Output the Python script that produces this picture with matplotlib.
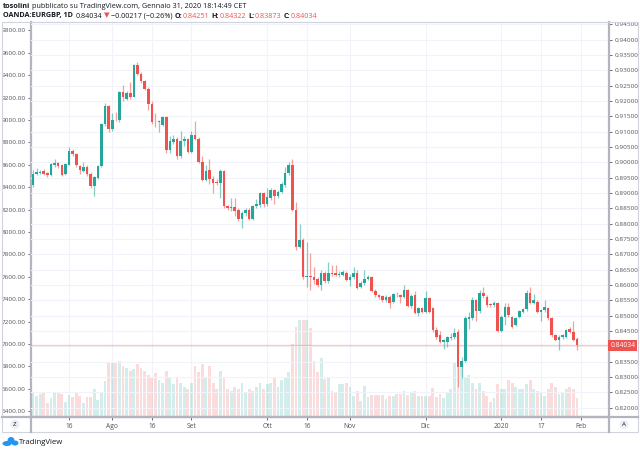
import datetime
import matplotlib
matplotlib.use("Agg")
import matplotlib.pyplot as plt
from matplotlib.patches import Rectangle, Ellipse
from matplotlib.lines import Line2D
from matplotlib.transforms import blended_transform_factory

# EURGBP daily candles, 2 Jul 2019 -> 31 Jan 2020
opens = [
    0.8926, 0.8962, 0.8967, 0.8972, 0.8964, 0.8958, 0.8993, 0.8998, 0.8990, 0.8962,
    0.8993, 0.9037, 0.9028, 0.8988, 0.8973, 0.8984, 0.8962, 0.8923, 0.8950, 0.8988,
    0.9125, 0.9184, 0.9109, 0.9140, 0.9138, 0.9230, 0.9207, 0.9227, 0.9214, 0.9317,
    0.9290, 0.9266, 0.9241, 0.9192, 0.9133, 0.9131, 0.9121, 0.9149, 0.9040, 0.9066,
    0.9077, 0.9020, 0.9070, 0.9075, 0.9035, 0.9088, 0.9078, 0.9002, 0.8943, 0.8975,
    0.8947, 0.8935, 0.8932, 0.8973, 0.8858, 0.8850, 0.8855, 0.8845, 0.8814, 0.8834,
    0.8845, 0.8817, 0.8858, 0.8861, 0.8899, 0.8864, 0.8883, 0.8910, 0.8890, 0.8904,
    0.8925, 0.8966, 0.8990, 0.8845, 0.8725, 0.8747, 0.8627, 0.8630, 0.8627, 0.8619,
    0.8600, 0.8640, 0.8613, 0.8640, 0.8638, 0.8633, 0.8633, 0.8640, 0.8616, 0.8627,
    0.8638, 0.8594, 0.8606, 0.8621, 0.8625, 0.8581, 0.8567, 0.8563, 0.8551, 0.8562,
    0.8544, 0.8568, 0.8566, 0.8562, 0.8584, 0.8532, 0.8567, 0.8510, 0.8524, 0.8513,
    0.8557, 0.8524, 0.8453, 0.8437, 0.8415, 0.8415, 0.8426, 0.8429, 0.8448, 0.8334,
    0.8353, 0.8488, 0.8491, 0.8551, 0.8516, 0.8573, 0.8562, 0.8538, 0.8535, 0.8542,
    0.8451, 0.8497, 0.8527, 0.8497, 0.8470, 0.8497, 0.8513, 0.8521, 0.8573, 0.8542,
    0.8546, 0.8513, 0.8518, 0.8524, 0.8491, 0.8437, 0.8421, 0.8429, 0.8431, 0.8457,
    0.8448, 0.84251]
highs = [
    0.8975, 0.8982, 0.8976, 0.8978, 0.8968, 0.8999, 0.9010, 0.9003, 0.8995, 0.8999,
    0.9050, 0.9045, 0.9032, 0.8993, 0.9000, 0.8992, 0.8968, 0.8955, 0.8992, 0.9130,
    0.9195, 0.9186, 0.9160, 0.9166, 0.9234, 0.9253, 0.9232, 0.9263, 0.9322, 0.9328,
    0.9295, 0.9270, 0.9245, 0.9200, 0.9160, 0.9140, 0.9150, 0.9152, 0.9085, 0.9090,
    0.9082, 0.9102, 0.9085, 0.9080, 0.9102, 0.9136, 0.9082, 0.9020, 0.8990, 0.9010,
    0.8955, 0.8945, 0.8978, 0.8976, 0.8862, 0.8883, 0.8885, 0.8850, 0.8840, 0.8850,
    0.8850, 0.8862, 0.8880, 0.8905, 0.8902, 0.8915, 0.8915, 0.8912, 0.8910, 0.8935,
    0.8985, 0.9000, 0.9010, 0.8870, 0.8800, 0.8752, 0.8740, 0.8705, 0.8660, 0.8625,
    0.8648, 0.8645, 0.8676, 0.8665, 0.8665, 0.8645, 0.8648, 0.8645, 0.8635, 0.8660,
    0.8650, 0.8612, 0.8650, 0.8632, 0.8630, 0.8586, 0.8572, 0.8568, 0.8567, 0.8567,
    0.8575, 0.8577, 0.8570, 0.8600, 0.8588, 0.8572, 0.8582, 0.8530, 0.8528, 0.8580,
    0.8562, 0.8530, 0.8462, 0.8450, 0.8425, 0.8435, 0.8445, 0.8459, 0.8456, 0.8365,
    0.8500, 0.8513, 0.8560, 0.8556, 0.8584, 0.8594, 0.8566, 0.8542, 0.8548, 0.8546,
    0.8502, 0.8540, 0.8540, 0.8500, 0.8496, 0.8520, 0.8526, 0.8584, 0.8594, 0.8570,
    0.8551, 0.8523, 0.8551, 0.8530, 0.8496, 0.8442, 0.8436, 0.8442, 0.8458, 0.8462,
    0.8484, 0.84322]
lows = [
    0.8921, 0.8958, 0.8963, 0.8958, 0.8954, 0.8955, 0.8985, 0.8982, 0.8955, 0.8958,
    0.8990, 0.9022, 0.8985, 0.8962, 0.8968, 0.8955, 0.8915, 0.8891, 0.8945, 0.8985,
    0.9118, 0.9098, 0.9102, 0.9135, 0.9132, 0.9200, 0.9202, 0.9208, 0.9212, 0.9285,
    0.9260, 0.9236, 0.9170, 0.9125, 0.9115, 0.9100, 0.9118, 0.9030, 0.9032, 0.9060,
    0.9012, 0.9015, 0.9055, 0.9030, 0.9030, 0.9072, 0.8998, 0.8938, 0.8940, 0.8930,
    0.8900, 0.8925, 0.8883, 0.8852, 0.8846, 0.8840, 0.8825, 0.8808, 0.8785, 0.8825,
    0.8812, 0.8812, 0.8850, 0.8855, 0.8855, 0.8858, 0.8878, 0.8865, 0.8885, 0.8900,
    0.8920, 0.8960, 0.8840, 0.8715, 0.8720, 0.8620, 0.8594, 0.8585, 0.8602, 0.8595,
    0.8584, 0.8608, 0.8608, 0.8630, 0.8628, 0.8625, 0.8628, 0.8612, 0.8598, 0.8620,
    0.8586, 0.8589, 0.8600, 0.8615, 0.8576, 0.8562, 0.8555, 0.8546, 0.8546, 0.8525,
    0.8540, 0.8560, 0.8540, 0.8558, 0.8528, 0.8525, 0.8505, 0.8500, 0.8508, 0.8509,
    0.8508, 0.8448, 0.8425, 0.8410, 0.8390, 0.8398, 0.8420, 0.8425, 0.8268, 0.8296,
    0.8348, 0.8458, 0.8485, 0.8484, 0.8510, 0.8558, 0.8530, 0.8530, 0.8530, 0.8446,
    0.8446, 0.8470, 0.8497, 0.8459, 0.8465, 0.8492, 0.8508, 0.8516, 0.8538, 0.8537,
    0.8508, 0.8484, 0.8513, 0.8486, 0.8432, 0.8416, 0.8388, 0.8424, 0.8426, 0.8443,
    0.8416, 0.83873]
closes = [
    0.8962, 0.8969, 0.8970, 0.8962, 0.8958, 0.8995, 0.8998, 0.8988, 0.8960, 0.8995,
    0.9037, 0.9028, 0.8991, 0.8975, 0.8986, 0.8962, 0.8923, 0.8951, 0.8988, 0.9125,
    0.9184, 0.9108, 0.9140, 0.9138, 0.9230, 0.9214, 0.9227, 0.9214, 0.9317, 0.9290,
    0.9266, 0.9241, 0.9192, 0.9132, 0.9131, 0.9134, 0.9147, 0.9040, 0.9070, 0.9078,
    0.9020, 0.9069, 0.9075, 0.9035, 0.9088, 0.9078, 0.9002, 0.8943, 0.8973, 0.8947,
    0.8933, 0.8932, 0.8973, 0.8858, 0.8852, 0.8855, 0.8842, 0.8814, 0.8834, 0.8845,
    0.8817, 0.8858, 0.8864, 0.8899, 0.8864, 0.8886, 0.8910, 0.8890, 0.8904, 0.8929,
    0.8966, 0.8990, 0.8845, 0.8725, 0.8747, 0.8627, 0.8630, 0.8627, 0.8616, 0.8600,
    0.8640, 0.8614, 0.8638, 0.8637, 0.8633, 0.8636, 0.8643, 0.8616, 0.8627, 0.8640,
    0.8591, 0.8606, 0.8619, 0.8625, 0.8581, 0.8567, 0.8560, 0.8551, 0.8562, 0.8542,
    0.8570, 0.8566, 0.8562, 0.8584, 0.8532, 0.8565, 0.8510, 0.8524, 0.8513, 0.8557,
    0.8513, 0.8453, 0.8431, 0.8415, 0.8421, 0.8429, 0.8431, 0.8445, 0.8334, 0.8353,
    0.8491, 0.8497, 0.8551, 0.8516, 0.8573, 0.8564, 0.8535, 0.8535, 0.8542, 0.8451,
    0.8497, 0.8527, 0.8502, 0.8464, 0.8491, 0.8516, 0.8521, 0.8573, 0.8542, 0.8551,
    0.8513, 0.8518, 0.8527, 0.8491, 0.8437, 0.8421, 0.8431, 0.8437, 0.8453, 0.8448,
    0.8421, 0.84034]
# volume bars, read in units of the left scale
volumes = [
    6575, 6539, 6552, 6570, 6477, 6522, 6563, 6563, 6554, 6486,
    6546, 6531, 6570, 6534, 6477, 6531, 6531, 6596, 6501, 6575,
    6673, 6837, 6834, 6831, 6846, 6800, 6790, 6760, 6780, 6820,
    6790, 6760, 6720, 6700, 6740, 6680, 6650, 6760, 6700, 6640,
    6700, 6650, 6620, 6600, 6650, 6800, 6750, 6820, 6700, 6800,
    6650, 6600, 6760, 6700, 6600, 6580, 6620, 6600, 6650, 6560,
    6600, 6580, 6620, 6650, 6600, 6640, 6650, 6700, 6620, 6680,
    6700, 6750, 7000, 7150, 7215, 7215, 7215, 7147, 6852, 6754,
    6873, 6686, 6709, 6584, 6566, 6644, 6644, 6650, 6620, 6537,
    6584, 6492, 6629, 6531, 6546, 6546, 6546, 6546, 6510, 6537,
    6537, 6554, 6554, 6584, 6546, 6561, 6584, 6540, 6537, 6537,
    6537, 6605, 6531, 6554, 6516, 6561, 6600, 6830, 6950, 6800,
    6700, 6720, 6650, 6600, 6650, 6580, 6540, 6480, 6520, 6640,
    6600, 6600, 6680, 6650, 6620, 6600, 6600, 6640, 6680, 6600,
    6580, 6560, 6540, 6600, 6650, 6620, 6550, 6570, 6600, 6620,
    6600, 6520]

tick_dates = ["2019-07-16", "2019-08-01", "2019-08-16", "2019-09-02", "2019-10-01",
              "2019-10-16", "2019-11-01", "2019-12-02", "2020-01-02", "2020-01-17",
              "2020-02-03"]
tick_labels = ["16", "Ago", "16", "Set", "Ott", "16", "Nov", "Dic", "2020", "17", "Feb"]
left_ticks = [6400, 6600, 6800, 7000, 7200, 7400, 7600, 7800, 8000, 8200, 8400,
              8600, 8800, 9000, 9200, 9400, 9600, 9800]
right_ticks = [0.820, 0.825, 0.830, 0.835, 0.840, 0.845, 0.850, 0.855, 0.860, 0.865,
               0.870, 0.875, 0.880, 0.885, 0.890, 0.895, 0.900, 0.905, 0.910, 0.915,
               0.920, 0.925, 0.930, 0.935, 0.940, 0.945]
last_price = 0.84034

GREEN = "#26a69a"
RED = "#ef5350"
TXT = "#131722"
AXC = "#b2b5be"
GRID = "#f0f3fa"


def fx(x):
    return x / 640.0

def fy(y):
    return 1 - y / 450.0

def trading_days():
    days = []
    d = datetime.date(2019, 7, 2)
    skip = [datetime.date(2019, 12, 25), datetime.date(2020, 1, 1)]
    while d <= datetime.date(2020, 2, 7):
        if d.weekday() < 5 and d not in skip:
            days.append(d)
        d += datetime.timedelta(days=1)
    return days

def write_line(fig, pieces, x0, y, size=5.2):
    # put pieces of text one after the other, like the TradingView header
    renderer = fig.canvas.get_renderer()
    x = x0
    for txt, color, weight, gap in pieces:
        t = fig.text(fx(x), fy(y), txt, color=color, fontweight=weight, fontsize=size,
                     ha="left", va="center", family=["Open Sans", "DejaVu Sans"])
        bb = t.get_window_extent(renderer=renderer)
        x += bb.width + gap


plt.rcParams['font.family'] = ['Open Sans', 'DejaVu Sans']
fig = plt.figure(figsize=(6.4, 4.5), dpi=100)
ax = fig.add_axes([fx(31), fy(417), fx(609) - fx(31), fy(22) - fy(417)])
ax2 = ax.twinx()

n = len(closes)
xs = list(range(n))
up = [closes[i] >= opens[i] for i in range(n)]

# volume (left scale)
vbase = 6349
vcol = [(0.149, 0.651, 0.604, 0.2) if u else (0.937, 0.325, 0.314, 0.2) for u in up]
ax.bar(xs, [v - vbase for v in volumes], bottom=vbase, width=0.78, color=vcol, linewidth=0)
ax.set_ylim(vbase, 9874)
ax.set_xlim(-0.55, 159.9)

# candles (right scale)
wcol = [(0.149, 0.651, 0.604, 0.55) if u else (0.937, 0.325, 0.314, 0.55) for u in up]
ax2.vlines(xs, lows, highs, colors=wcol, linewidth=0.9, zorder=2)
bottoms = [min(opens[i], closes[i]) for i in range(n)]
heights = [max(abs(closes[i] - opens[i]), 0.00009) for i in range(n)]
bcol = [GREEN if u else RED for u in up]
ax2.bar(xs, heights, bottom=bottoms, width=0.72, color=bcol, linewidth=0, zorder=3)
ax2.set_ylim(0.81697, 0.94580)
ax2.axhline(last_price, color=RED, alpha=0.3, linewidth=1, zorder=1)

# ticks
days = trading_days()
tick_pos = [days.index(datetime.date.fromisoformat(s)) for s in tick_dates]
ax.set_xticks(tick_pos)
ax.set_xticklabels(tick_labels)
ax.set_yticks(left_ticks)
ax.set_yticklabels(["%.2f" % v for v in left_ticks])
ax2.set_yticks(right_ticks)
# the last price label hides the 0.84000 label, as on TradingView
ax2.set_yticklabels(["" if abs(v - 0.840) < 1e-9 else "%.5f" % v for v in right_ticks])

ax.tick_params(axis="x", length=2, width=0.6, pad=2, labelsize=4.8, colors="#50535e")
ax.tick_params(axis="y", length=2.5, width=0.6, pad=1.5, labelsize=4.6, colors="#50535e")
ax2.tick_params(axis="y", length=2.5, width=0.6, pad=1.5, labelsize=4.6, colors="#50535e")

ax.grid(axis="x", color=GRID, linewidth=0.8)
ax2.grid(axis="y", color=GRID, linewidth=0.8)
ax.set_axisbelow(True)
ax2.set_axisbelow(True)

for s in ["top", "bottom", "left"]:
    ax2.spines[s].set_visible(False)
ax.spines["right"].set_visible(False)
ax.spines["top"].set_color("#e0e3eb")
ax.spines["top"].set_linewidth(0.8)
ax.spines["left"].set_color(AXC)
ax.spines["left"].set_linewidth(1.6)
ax.spines["bottom"].set_color(AXC)
ax.spines["bottom"].set_linewidth(1.6)
ax2.spines["right"].set_color(AXC)
ax2.spines["right"].set_linewidth(1.6)

# last price label on the right scale
ax2.text(1.002, last_price, "0.84034", transform=blended_transform_factory(ax2.transAxes, ax2.transData),
         ha="left", va="center", fontsize=4.8, color="white", zorder=10,
         bbox=dict(boxstyle="square,pad=0.35", fc=RED, ec="none"))

# frame around the chart and the time scale row
fig.add_artist(Rectangle((fx(2), fy(432)), fx(638) - fx(2), fy(22) - fy(432), transform=fig.transFigure,
                         fill=False, edgecolor="#d1d4dc", linewidth=0.8))
fig.add_artist(Line2D([fx(2), fx(638)], [fy(417), fy(417)], color=AXC, linewidth=1.6))
fig.add_artist(Line2D([fx(31), fx(31)], [fy(417), fy(432)], color=AXC, linewidth=1.6))
fig.add_artist(Line2D([fx(609), fx(609)], [fy(417), fy(432)], color=AXC, linewidth=1.6))
fig.text(fx(15), fy(424.5), "Z", fontsize=4.5, color=TXT, ha="center", va="center",
         bbox=dict(boxstyle="circle,pad=0.35", fc="#eceff4", ec="none"))
fig.text(fx(624), fy(424.5), "A", fontsize=4.5, color=TXT, ha="center", va="center",
         bbox=dict(boxstyle="circle,pad=0.35", fc="#eceff4", ec="none"))

# header
fig.canvas.draw()
write_line(fig, [("tosolini", TXT, "bold", 1.5),
                 ("pubblicato su TradingView.com, Gennaio 31, 2020 18:14:49 CET", TXT, "normal", 0)],
           3, 6)
write_line(fig, [("OANDA:EURGBP, 1D", TXT, "bold", 2.5),
                 ("0.84034", TXT, "normal", 1.5),
                 ("\u25bc", RED, "normal", 1.5),
                 ("\u22120.00217 (\u22120.26%)", TXT, "normal", 2.5),
                 ("O:", TXT, "bold", 0), ("0.84251", RED, "normal", 2.5),
                 ("H:", TXT, "bold", 0), ("0.84322", RED, "normal", 2.5),
                 ("L:", TXT, "bold", 0), ("0.83873", RED, "normal", 2.5),
                 ("C:", TXT, "bold", 0), ("0.84034", RED, "normal", 0)],
           3, 16)

# TradingView logo
for cx, cy, w, h in [(7, 443.5, 9, 5), (11, 440.5, 7, 7), (15, 443, 7, 5)]:
    fig.add_artist(Ellipse((fx(cx), fy(cy)), w / 640.0, h / 450.0, transform=fig.transFigure,
                           color="#2196f3", linewidth=0))
fig.text(fx(19), fy(442), "TradingView", fontsize=5.6, color=TXT, ha="left", va="center")

fig.savefig("out.png", dpi=100)
